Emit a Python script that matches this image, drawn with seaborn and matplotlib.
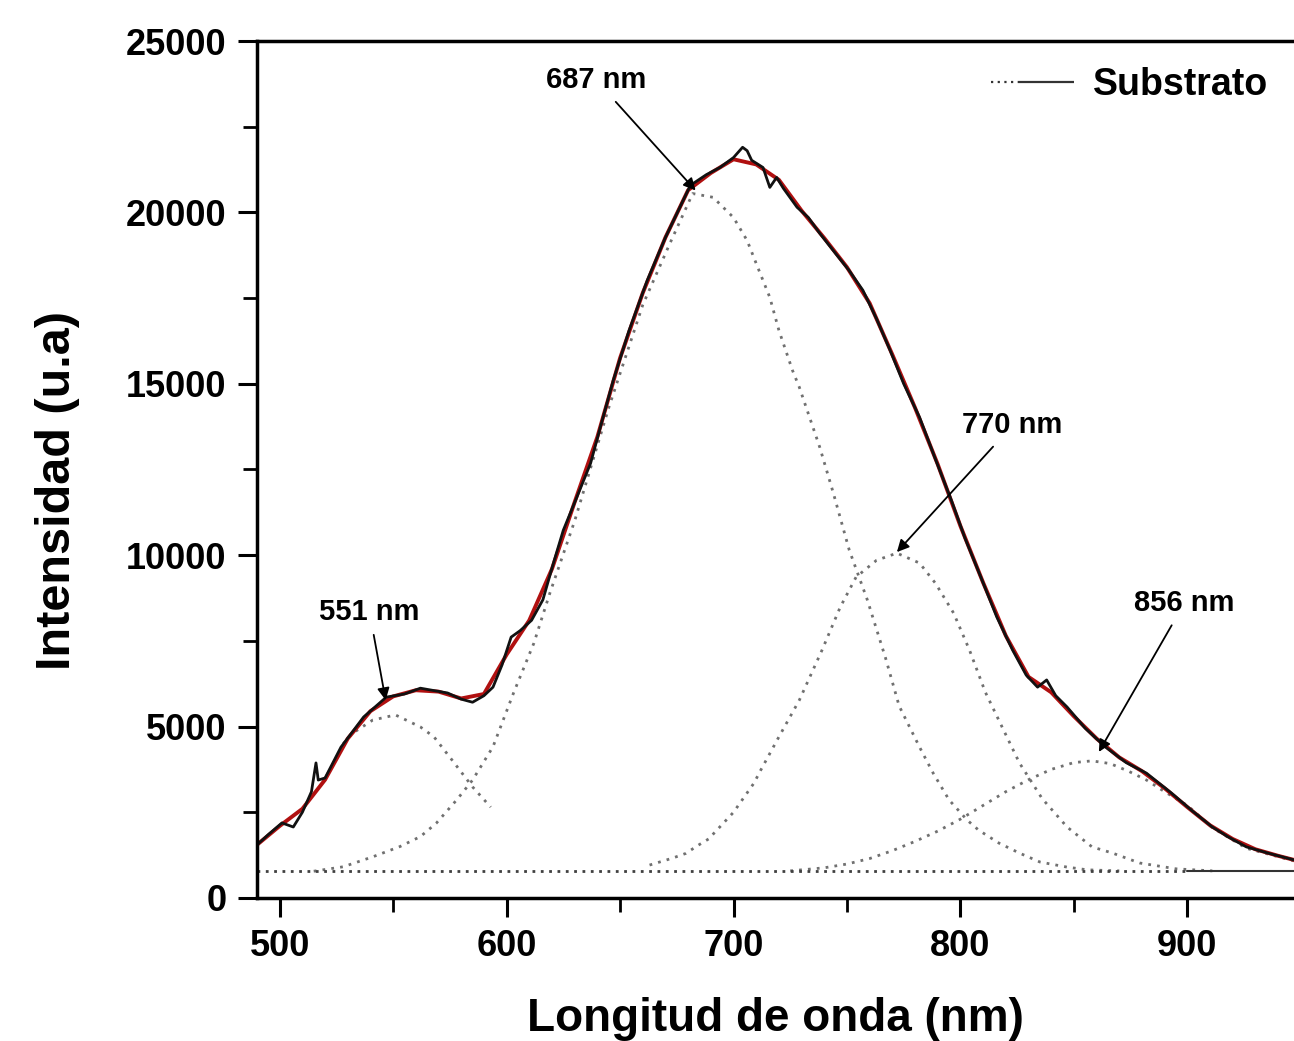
import matplotlib
matplotlib.use("Agg")
import matplotlib.pyplot as plt
import seaborn as sns
from matplotlib.lines import Line2D
from matplotlib.ticker import MultipleLocator

# measured spectrum (black)
wl = [490, 495, 501, 506, 510, 514, 516, 517, 520, 527, 537, 547, 555, 562, 568,
      574, 580, 585, 590, 594, 598, 602, 606, 611, 616, 621, 625, 631, 637, 642,
      647, 654, 662, 670, 676, 681, 688, 694, 700, 704, 706, 708, 713, 716, 719,
      722, 728, 733, 738, 745, 751, 757, 763, 769, 775, 782, 789, 796, 802, 809,
      816, 823, 829, 834, 838, 842, 847, 855, 864, 873, 882, 893, 902, 911, 918,
      926, 936, 947]
intensity = [1550, 1850, 2190, 2070, 2500, 3100, 3940, 3440, 3500, 4400, 5280, 5860,
             5950, 6120, 6050, 5980, 5800, 5710, 5900, 6150, 6800, 7610, 7800, 8100,
             8700, 9850, 10730, 11700, 12680, 13900, 15100, 16560, 18020, 19270, 20100,
             20790, 21100, 21310, 21600, 21900, 21800, 21520, 21310, 20730, 21020, 20700,
             20150, 19850, 19390, 18800, 18300, 17730, 16900, 15980, 15000, 14020, 12800,
             11600, 10500, 9360, 8200, 7230, 6500, 6150, 6360, 5900, 5570, 4950, 4400,
             3950, 3640, 3060, 2550, 2070, 1780, 1490, 1300, 1110]

# fitted envelope (red)
fit_wl = [490, 500, 510, 520, 530, 540, 550, 560, 570, 580, 590, 600, 610, 620, 630,
          640, 650, 660, 670, 680, 690, 700, 710, 720, 730, 740, 750, 760, 770, 780,
          790, 800, 810, 820, 830, 840, 850, 860, 870, 880, 890, 900, 910, 920, 930,
          940, 947]
fit_int = [1550, 2100, 2600, 3450, 4650, 5450, 5880, 6060, 6020, 5820, 5950, 7100,
           8100, 9600, 11550, 13450, 15750, 17650, 19270, 20650, 21150, 21550, 21400,
           20950, 20050, 19250, 18400, 17350, 15850, 14300, 12650, 10850, 9200, 7650,
           6450, 6000, 5300, 4650, 4100, 3700, 3200, 2650, 2120, 1720, 1420, 1230, 1110]

# gaussian components (dotted)
p551_wl = [528, 532, 541, 551, 562, 568, 576, 585, 593]
p551_int = [4500, 4800, 5190, 5340, 4990, 4700, 4020, 3240, 2650]

p687_wl = [515, 528, 541, 553, 562, 569, 578, 585, 594, 603, 612, 619, 630, 645, 660,
           672, 682, 691, 700, 706, 710, 716, 720, 726, 729, 738, 744, 751, 759, 767,
           773, 782, 788, 795, 803, 808, 817, 826, 835, 847, 856, 870]
p687_int = [780, 910, 1200, 1500, 1790, 2180, 2860, 3440, 4410, 5970, 7430, 8880,
            11000, 14300, 17300, 19100, 20550, 20440, 19850, 19180, 18510, 17520, 16560,
            15390, 14900, 13150, 11810, 10150, 8690, 7000, 5600, 4400, 3640, 2860, 2270,
            1980, 1600, 1310, 1050, 900, 820, 790]

p770_wl = [663, 673, 679, 684, 689, 700, 709, 712, 720, 729, 739, 747, 754, 763, 772,
           782, 789, 797, 804, 811, 819, 826, 836, 847, 858, 867, 879, 895, 911]
p770_int = [960, 1160, 1300, 1520, 1720, 2500, 3350, 3730, 4700, 5770, 7230, 8480,
            9360, 9850, 10060, 9770, 9180, 8310, 7230, 6000, 4900, 3940, 2900, 2070,
            1490, 1310, 1020, 850, 790]

p856_wl = [725, 740, 750, 760, 770, 780, 790, 800, 810, 820, 830, 840, 850, 858, 866,
           874, 882, 890, 900, 911, 926, 947]
p856_int = [790, 880, 990, 1150, 1380, 1650, 1950, 2300, 2700, 3100, 3450, 3750, 3950,
            4000, 3920, 3700, 3440, 3100, 2700, 2050, 1450, 1080]

base_level = 790
base_dotted_wl = [490, 900]
base_solid_wl = [900, 947]

peak_labels = ["551 nm", "687 nm", "770 nm", "856 nm"]
peak_xy = [(546.7, 5770), (683.3, 20640), (772, 10090), (861, 4260)]
label_xy = [(539.6, 8340), (639.6, 23850), (823, 13790), (898.7, 8600)]

sns.set_theme(style="ticks")
plt.rcParams['font.family'] = ['Liberation Sans', 'DejaVu Sans']
plt.rcParams['font.weight'] = 'bold'
plt.rcParams['text.color'] = 'black'
plt.rcParams['axes.labelcolor'] = 'black'
plt.rcParams['xtick.color'] = 'black'
plt.rcParams['ytick.color'] = 'black'

fig = plt.figure(figsize=(12.94, 10.41), dpi=100)
ax = fig.add_axes([0.1986, 0.1374, 0.8014, 0.8232])

for xs, ys in [(p551_wl, p551_int), (p687_wl, p687_int),
               (p770_wl, p770_int), (p856_wl, p856_int)]:
    ax.plot(xs, ys, color='#707070', lw=2.0, linestyle=(0, (1, 2.2)))

ax.plot(base_dotted_wl, [base_level] * 2, color='#404040', lw=2.0, linestyle=(0, (1, 2.0)))
ax.plot(base_solid_wl, [base_level] * 2, color='#333333', lw=1.5)

sns.lineplot(x=fit_wl, y=fit_int, color='#b01010', lw=2.8, ax=ax, sort=False)
sns.lineplot(x=wl, y=intensity, color='#111111', lw=2.0, ax=ax, sort=False)

for lab, pxy, txy in zip(peak_labels, peak_xy, label_xy):
    ax.annotate(lab, xy=pxy, xytext=txy, ha='center', va='center',
                fontsize=21, fontweight='bold', color='black',
                arrowprops=dict(arrowstyle='-|>', color='black', lw=1.3,
                                mutation_scale=18, shrinkA=4, shrinkB=0))

handle = Line2D([], [], color='#333333', lw=1.6,
                linestyle=(0, (1, 2, 1, 2, 1, 2, 1, 2, 30, 0)))
ax.legend([handle], ["Substrato"], loc='upper right', frameon=False,
          handlelength=2.2, handletextpad=0.5, borderaxespad=0.3,
          prop=dict(weight='bold', size=27))

ax.set_xlim(490, 947)
ax.set_ylim(0, 25000)
ax.xaxis.set_major_locator(MultipleLocator(100))
ax.xaxis.set_minor_locator(MultipleLocator(50))
ax.yaxis.set_major_locator(MultipleLocator(5000))
ax.yaxis.set_minor_locator(MultipleLocator(2500))
ax.tick_params(which='major', direction='out', length=14, width=2.2, labelsize=26,
               pad=8)
ax.tick_params(which='minor', direction='out', length=10, width=2.0)
for lbl in ax.get_xticklabels() + ax.get_yticklabels():
    lbl.set_fontweight('bold')

for side in ['left', 'bottom', 'top']:
    ax.spines[side].set_linewidth(2.5)
    ax.spines[side].set_color('black')
ax.spines['right'].set_visible(False)

ax.set_xlabel("Longitud de onda (nm)", fontsize=33, fontweight='bold', labelpad=24)
ax.set_ylabel("Intensidad (u.a)", fontsize=35, fontweight='bold')
ax.yaxis.set_label_coords(-0.171, 0.476)

fig.savefig("out.png", dpi=100)
